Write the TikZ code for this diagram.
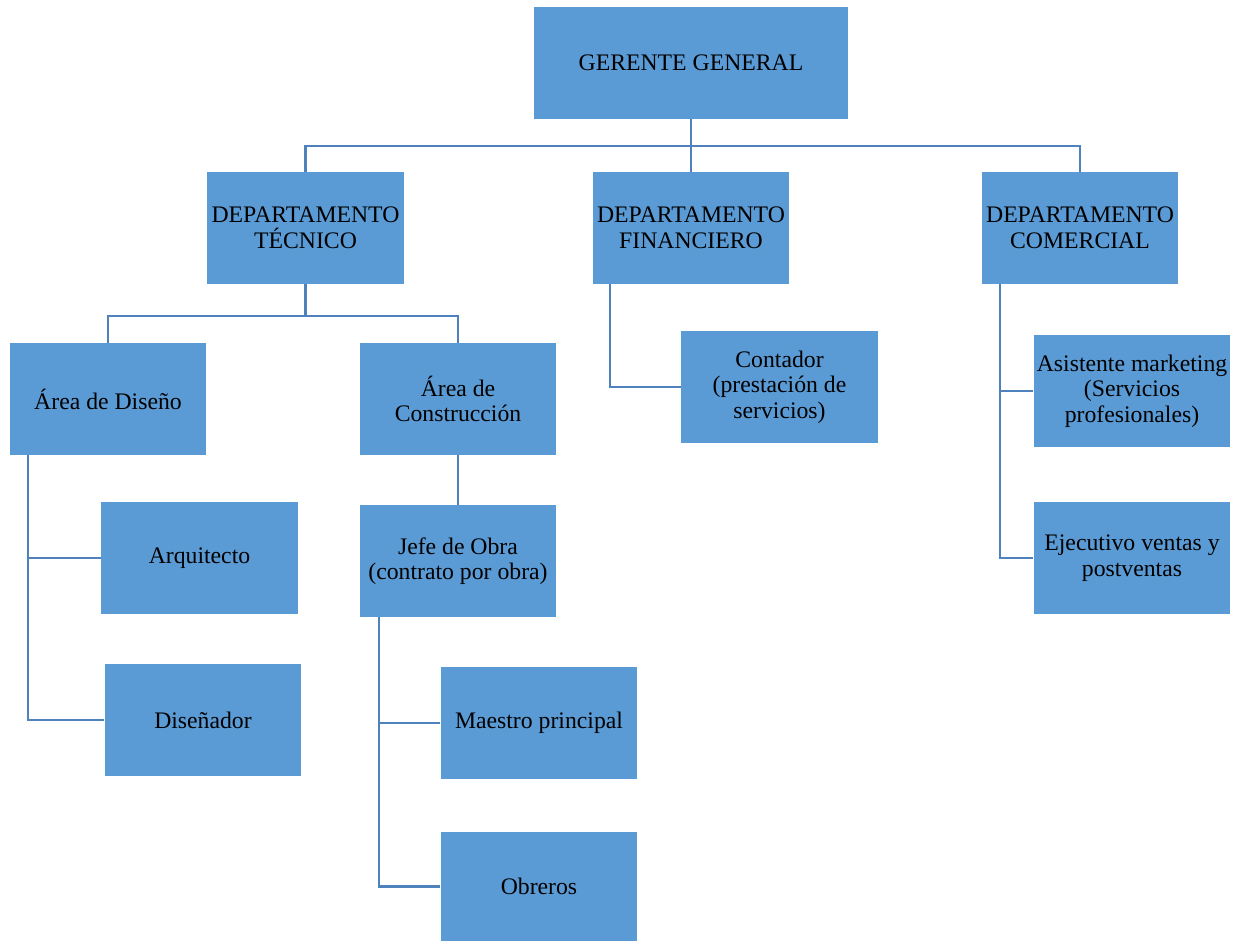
\documentclass[tikz,border=0pt]{standalone}
\usepackage{fontspec}
\setmainfont{Liberation Serif}
\usetikzlibrary{positioning}
\definecolor{cajaazul}{HTML}{5B9BD5}
\definecolor{lineaazul}{HTML}{4F81BD}

\begin{document}
\begin{tikzpicture}[x=0.02cm, y=-0.02cm,
	caja/.style={rectangle, fill=cajaazul, minimum width=3.94cm, minimum height=2.24cm,
		inner sep=0pt, align=center, font=\fontsize{13.5}{14.6}\selectfont},
	linea/.style={draw=lineaazul, line width=1.6pt},]
\useasboundingbox (0,0) rectangle (1237,942);
% cajas
\node[caja, minimum width=6.28cm] (gg) at (691,63) {GERENTE GENERAL};
\node[caja] (dt) at (305.5,228) {DEPARTAMENTO\\TÉCNICO};
\node[caja] (df) at (691,228) {DEPARTAMENTO\\FINANCIERO};
\node[caja] (dc) at (1080,228) {DEPARTAMENTO\\COMERCIAL};
\node[caja] (ad) at (108,399) {Área de Diseño};
\node[caja] (ac) at (458,399) {Área de\\Construcción};
\node[caja] (cont) at (779.5,387) {Contador\\(prestación de\\servicios)};
\node[caja] (asis) at (1132,391) {Asistente marketing\\(Servicios\\profesionales)};
\node[caja] (ejec) at (1132,558) {Ejecutivo ventas y\\postventas};
\node[caja] (arq) at (199.5,558) {Arquitecto};
\node[caja] (dis) at (203,720) {Diseñador};
\node[caja] (jo) at (458,561) {Jefe de Obra\\(contrato por obra)};
\node[caja] (mp) at (539,723) {Maestro principal};
\node[caja, minimum height=2.18cm] (obr) at (539,886.5) {Obreros};
% conectores
\coordinate (bus1) at (691,146);
\coordinate (bus2) at (305.5,316);
\coordinate (ad-b) at (28,455);
\coordinate (jo-b) at (379,617);
\coordinate (df-b) at (610,284);
\coordinate (dc-b) at (1000,284);
\draw[linea] (gg.south) -- (bus1);
\draw[linea] (dt.north) |- (bus1);
\draw[linea] (df.north) -- (bus1);
\draw[linea] (dc.north) |- (bus1);
\draw[linea] (dt.south) -- (bus2);
\draw[linea] (ad.north) |- (bus2);
\draw[linea] (ac.north) |- (bus2);
\draw[linea] (ad-b) |- (arq.west);
\draw[linea] (ad-b) |- (dis.west);
\draw[linea] (ac.south) -- (jo.north);
\draw[linea] (jo-b) |- (mp.west);
\draw[linea] (jo-b) |- (obr.west);
\draw[linea] (df-b) |- (cont.west);
\draw[linea] (dc-b) |- (asis.west);
\draw[linea] (dc-b) |- (ejec.west);
\end{tikzpicture}
\end{document}
